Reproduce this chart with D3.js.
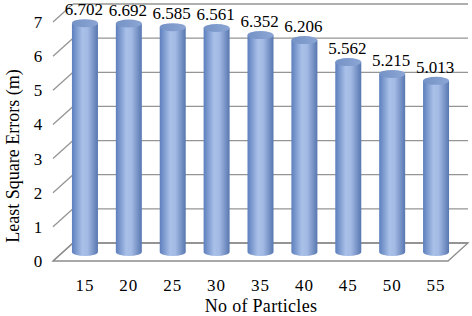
<!DOCTYPE html>
<html>
<head>
<meta charset="utf-8">
<script src="https://cdn.jsdelivr.net/npm/d3@7"></script>
<style>
  body { margin: 0; background: #fff; }
</style>
</head>
<body>
<div id="chart"></div>
<script>
const particles = ["15", "20", "25", "30", "35", "40", "45", "50", "55"];
const errors = [6.702, 6.692, 6.585, 6.561, 6.352, 6.206, 5.562, 5.215, 5.013];
const yTicks = [0, 1, 2, 3, 4, 5, 6, 7];

const width = 472,
      height = 316,
      depthX = 20,   // 3d offset of the back wall
      depthY = -18;

const svg = d3.select("#chart")
  .append("svg")
  .attr("width", width)
  .attr("height", height)
  .attr("font-family", "'Liberation Serif', serif");

// front plane scales
const x = d3.scaleBand().domain(particles).range([53, 448]);
const y = d3.scaleLinear().domain([0, 7]).range([261, 22]);

const grid = svg.append("g")
  .attr("stroke", "#959595")
  .attr("stroke-width", 1.3)
  .attr("fill", "none");

// back wall gridlines
grid.selectAll("line.back")
  .data(yTicks)
  .join("line")
  .attr("class", "back")
  .attr("x1", 53 + depthX)
  .attr("x2", 448 + depthX)
  .attr("y1", d => y(d) + depthY)
  .attr("y2", d => y(d) + depthY);

// side wall diagonals
grid.selectAll("line.side")
  .data(yTicks)
  .join("line")
  .attr("class", "side")
  .attr("x1", 53)
  .attr("x2", 53 + depthX)
  .attr("y1", d => y(d))
  .attr("y2", d => y(d) + depthY);

// floor outline
grid.append("path")
  .attr("stroke", "#8c8c8c")
  .attr("d", `M53,${y(0)} L448,${y(0)} L${448 + depthX},${y(0) + depthY} L${53 + depthX},${y(0) + depthY} Z`);

// cylinder gradients
const defs = svg.append("defs");
const side = defs.append("linearGradient").attr("id", "side");
side.append("stop").attr("offset", "0%").attr("stop-color", "#5d7fbd");
side.append("stop").attr("offset", "40%").attr("stop-color", "#a9c0e8");
side.append("stop").attr("offset", "60%").attr("stop-color", "#a3bae4");
side.append("stop").attr("offset", "100%").attr("stop-color", "#5877b0");
const cap = defs.append("linearGradient").attr("id", "cap");
cap.append("stop").attr("offset", "0%").attr("stop-color", "#7592c6");
cap.append("stop").attr("offset", "100%").attr("stop-color", "#8ba6d4");

const rx = 13, ry = 4;
const cx = d => x(d) + x.bandwidth() / 2 + depthX / 2;
const base = y(0) + depthY / 2;
const barTop = v => y(v) + depthY / 2;

const bars = svg.append("g")
  .selectAll("g")
  .data(particles.map((p, i) => ({ p, v: errors[i] })))
  .join("g");

bars.append("path")
  .attr("fill", "url(#side)")
  .attr("d", d => {
    const c = cx(d.p), t = barTop(d.v);
    return `M${c - rx},${t} L${c - rx},${base} A${rx},${ry} 0 0 0 ${c + rx},${base} L${c + rx},${t} Z`;
  });

bars.append("ellipse")
  .attr("fill", "url(#cap)")
  .attr("cx", d => cx(d.p))
  .attr("cy", d => barTop(d.v))
  .attr("rx", rx)
  .attr("ry", ry);

// value labels
bars.append("text")
  .attr("x", d => cx(d.p) - 1)
  .attr("y", d => barTop(d.v) - 8)
  .attr("text-anchor", "middle")
  .attr("font-size", 17)
  .text(d => d.v.toFixed(3));

// y tick labels
svg.append("g")
  .attr("font-size", 17)
  .attr("text-anchor", "middle")
  .selectAll("text")
  .data(yTicks)
  .join("text")
  .attr("x", 38)
  .attr("y", d => y(d) + 6)
  .text(d => d);

// x tick labels
svg.append("g")
  .attr("font-size", 17)
  .attr("letter-spacing", 1)
  .attr("text-anchor", "middle")
  .selectAll("text")
  .data(particles)
  .join("text")
  .attr("x", d => x(d) + x.bandwidth() / 2 + 10)
  .attr("y", 291)
  .text(d => d);

svg.append("text")
  .attr("x", 261)
  .attr("y", 312)
  .attr("text-anchor", "middle")
  .attr("font-size", 18)
  .attr("letter-spacing", 0.3)
  .text("No of Particles");

svg.append("text")
  .attr("transform", "translate(19,156) rotate(-90)")
  .attr("text-anchor", "middle")
  .attr("font-size", 18)
  .text("Least Square Errors (m)");
</script>
</body>
</html>
